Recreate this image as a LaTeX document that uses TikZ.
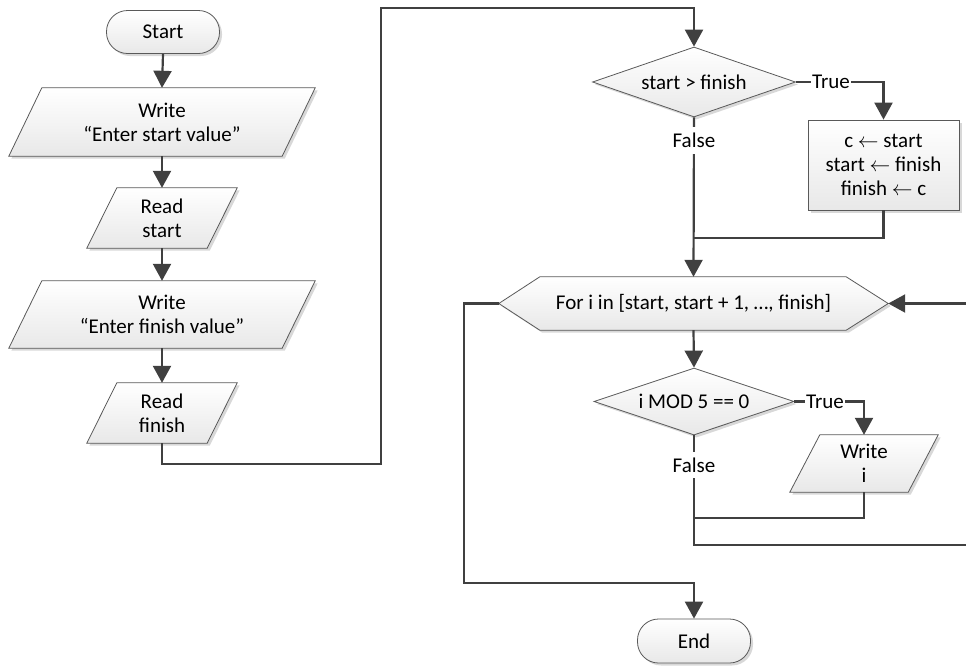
\documentclass[tikz,border=0pt]{standalone}
\usepackage{fontspec}
\setmainfont{Carlito}
\usetikzlibrary{shapes.geometric,shadows,arrows.meta,calc,backgrounds}
\newcommand\ioshape[2]{%
  \path[shp] ($(#1.north west)+(#2,0)$) -- (#1.north east) -- ($(#1.south east)-(#2,0)$) -- (#1.south west) -- cycle;}
\begin{document}
\begin{tikzpicture}[x=1pt,y=-1pt,
  font=\fontsize{21}{24}\selectfont,
  shp/.style={draw=black!65, line width=0.8pt, top color=white, bottom color=black!9,
    drop shadow={shadow xshift=2.5pt, shadow yshift=-2.5pt, opacity=0.22, fill=black!70}},
  term/.style={shp, rounded corners=21pt, minimum width=113pt, minimum height=43pt, inner sep=0pt},
  iobox/.style={inner sep=0pt, align=center},
  dec/.style={shp, diamond, inner sep=0pt},
  proc/.style={shp, rectangle, inner sep=0pt, align=center},
  conn/.style={draw=black!75, line width=2.2pt},
  arr/.style={conn, -{Triangle[length=17pt,width=18pt]}},
  lbl/.style={fill=white, inner xsep=1pt, inner ysep=2pt},
  lblv/.style={fill=white, inner xsep=2pt, inner ysep=6pt}]
\useasboundingbox (0,0) rectangle (966,665);

% nodes
\node[term] (start) at (163,32) {Start};
\node[iobox, minimum width=306pt, minimum height=68pt] (w1) at (162,122) {Write\\“Enter start value”};
\node[iobox, minimum width=150pt, minimum height=60pt] (r1) at (162,218) {Read\\start};
\node[iobox, minimum width=306pt, minimum height=67pt] (w2) at (162,314.5) {Write\\“Enter finish value”};
\node[iobox, minimum width=150pt, minimum height=60pt] (r2) at (162,413) {Read\\finish};
\coordinate (c1) at (162,464);
\coordinate (c2) at (381,464);
\coordinate (c3) at (381,8);
\coordinate (c4) at (694,8);
\node[dec, aspect=2.9, minimum width=203pt, minimum height=70pt] (d1) at (694,82) {start > finish};
\node[proc, minimum width=151pt, minimum height=90pt] (b1) at (883.5,165) {c $\leftarrow$ start\\start $\leftarrow$ finish\\finish $\leftarrow$ c};
\coordinate (j1) at (694,238);
\node[iobox, minimum width=389pt, minimum height=53pt] (h) at (693.5,303.5) {For i in [start, start + 1, …, finish]};
\node[dec, aspect=2.98, minimum width=200pt, minimum height=67pt] (d2) at (694,401.5) {i MOD 5 == 0};
\node[iobox, minimum width=148pt, minimum height=57pt] (wi) at (864,463.5) {Write\\i};
\coordinate (j2) at (694,518);
\coordinate (j3) at (694,545);
\coordinate (ex1) at (966,545);
\coordinate (ex2) at (966,303.5);
\coordinate (k1) at (464,583);
\node[term, minimum height=44pt] (end) at (694,641) {End};

% outlines of input/output and loop shapes
\begin{pgfonlayer}{background}
\ioshape{w1}{33}
\ioshape{r1}{30}
\ioshape{w2}{33}
\ioshape{r2}{30}
\ioshape{wi}{30}
\path[shp] (h.west) -- ($(h.north west)+(41,0)$) -- ($(h.north east)-(42,0)$) -- (h.east)
  -- ($(h.south east)-(42,0)$) -- ($(h.south west)+(41,0)$) -- cycle;
\end{pgfonlayer}

% connectors
\draw[arr] (start.south) -- (w1.north);
\draw[arr] (w1.south) -- (r1.north);
\draw[arr] (r1.south) -- (w2.north);
\draw[arr] (w2.south) -- (r2.north);
\draw[arr] (r2.south) -- (c1) -- (c2) -- (c3) -- (c4) -- (d1.north);
\draw[arr] (d1.east) -- node[lbl, pos=0.4] {True} (d1.east -| b1.north) -- (b1.north);
\draw[arr] (d1.south) -- node[lblv, pos=0.144] {False} (h.north);
\draw[conn] (b1.south) |- (j1);
\draw[arr] (h.south) -- (d2.north);
\draw[arr] (d2.east) -- node[lbl, pos=0.44] {True} (d2.east -| wi.north) -- (wi.north);
\draw[conn] (d2.south) -- node[lblv, pos=0.27] {False} (j3) -- (ex1);
\draw[conn] (wi.south) |- (j2);
\draw[arr] (ex2) -- (h.east);
\draw[arr] (h.west) -| (k1) -| (end.north);
\end{tikzpicture}
\end{document}
